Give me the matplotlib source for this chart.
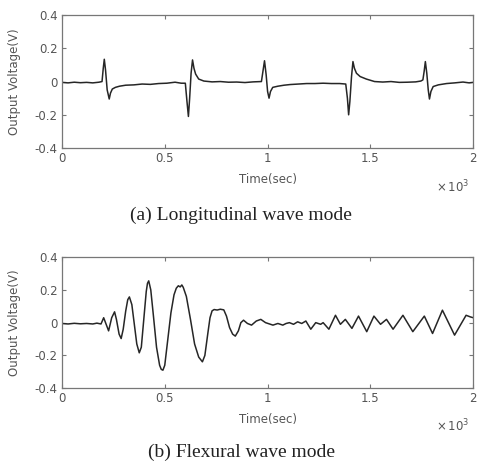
import matplotlib
matplotlib.use("Agg")
import matplotlib.pyplot as plt

# time axis shown in units of 10^3 sec
long_t = [0, 0.03, 0.06, 0.09, 0.12, 0.15, 0.18, 0.195, 0.201, 0.206, 0.212, 0.22, 0.23,
          0.236, 0.245, 0.26, 0.28, 0.31, 0.35, 0.39, 0.43, 0.47, 0.51, 0.55, 0.58, 0.60,
          0.608, 0.615, 0.621, 0.628, 0.635, 0.642, 0.65, 0.665, 0.69, 0.73, 0.77, 0.81,
          0.85, 0.89, 0.93, 0.97, 0.976, 0.985, 0.993, 1.0, 1.007, 1.014, 1.025, 1.05,
          1.08, 1.11, 1.15, 1.19, 1.23, 1.27, 1.31, 1.35, 1.38, 1.388, 1.394, 1.40, 1.408,
          1.415, 1.422, 1.432, 1.45, 1.48, 1.52, 1.56, 1.60, 1.64, 1.68, 1.72, 1.745,
          1.755, 1.761, 1.767, 1.774, 1.781, 1.787, 1.794, 1.805, 1.83, 1.87, 1.91, 1.95,
          1.98, 2.0]
long_v = [-0.005, -0.008, -0.004, -0.007, -0.005, -0.008, -0.004, 0.0, 0.08, 0.134, 0.07,
          -0.05, -0.105, -0.07, -0.045, -0.035, -0.028, -0.022, -0.02, -0.015, -0.017,
          -0.012, -0.01, -0.004, -0.01, -0.01, -0.12, -0.21, -0.1, 0.05, 0.13, 0.08, 0.045,
          0.015, 0.003, -0.002, 0.0, -0.004, -0.003, -0.006, -0.002, 0.0, 0.05, 0.125,
          0.04, -0.06, -0.10, -0.06, -0.035, -0.028, -0.022, -0.018, -0.015, -0.012,
          -0.012, -0.01, -0.012, -0.012, -0.015, -0.1, -0.2, -0.12, 0.03, 0.12, 0.08,
          0.05, 0.03, 0.015, 0.0, -0.003, 0.0, -0.005, -0.004, -0.002, 0.003, 0.01, 0.06,
          0.12, 0.05, -0.05, -0.105, -0.06, -0.03, -0.02, -0.012, -0.008, -0.003, -0.008,
          -0.005]

flex_t = [0, 0.03, 0.06, 0.09, 0.12, 0.15, 0.17, 0.19, 0.203, 0.215, 0.227, 0.242, 0.256,
          0.265, 0.278, 0.288, 0.298, 0.31, 0.32, 0.328, 0.34, 0.352, 0.364, 0.376, 0.386,
          0.398, 0.41, 0.416, 0.422, 0.432, 0.445, 0.46, 0.475, 0.483, 0.491, 0.50, 0.515,
          0.53, 0.545, 0.556, 0.566, 0.575, 0.583, 0.59, 0.605, 0.625, 0.645, 0.665, 0.683,
          0.695, 0.71, 0.72, 0.73, 0.74, 0.755, 0.77, 0.787, 0.80, 0.815, 0.83, 0.843,
          0.858, 0.87, 0.883, 0.902, 0.922, 0.945, 0.967, 0.99, 1.026, 1.05, 1.074, 1.09,
          1.106, 1.126, 1.146, 1.166, 1.186, 1.21, 1.234, 1.258, 1.27, 1.298, 1.33, 1.354,
          1.378, 1.41, 1.442, 1.482, 1.517, 1.549, 1.578, 1.61, 1.658, 1.706, 1.762, 1.802,
          1.85, 1.909, 1.965, 1.986, 2.0]
flex_v = [-0.005, -0.008, -0.004, -0.007, -0.005, -0.008, -0.003, -0.008, 0.03, -0.01,
          -0.05, 0.03, 0.066, 0.02, -0.07, -0.097, -0.04, 0.07, 0.14, 0.157, 0.11, -0.01,
          -0.13, -0.184, -0.15, 0.02, 0.19, 0.24, 0.255, 0.2, 0.04, -0.15, -0.26, -0.285,
          -0.29, -0.26, -0.1, 0.06, 0.17, 0.21, 0.225, 0.218, 0.23, 0.215, 0.16, 0.02,
          -0.13, -0.21, -0.239, -0.2, -0.06, 0.03, 0.072, 0.08, 0.077, 0.082, 0.078, 0.04,
          -0.03, -0.07, -0.082, -0.05, 0.0, 0.015, -0.005, -0.015, 0.01, 0.02, 0.0, -0.015,
          -0.005, -0.015, -0.005, 0.0, -0.01, 0.005, -0.005, 0.01, -0.04, 0.0, -0.01, 0.0,
          -0.04, 0.045, -0.01, 0.02, -0.035, 0.04, -0.055, 0.04, -0.01, 0.02, -0.04, 0.045,
          -0.055, 0.04, -0.066, 0.076, -0.076, 0.045, 0.035, 0.03]

x_ticks = [0, 0.5, 1, 1.5, 2]
x_labels = ["0", "0.5", "1", "1.5", "2"]
y_ticks = [-0.4, -0.2, 0, 0.2, 0.4]
y_labels = ["-0.4", "-0.2", "0", "0.2", "0.4"]

panels = [
    (long_t, long_v, "(a) Longitudinal wave mode", [0.129, 0.685, 0.857, 0.283], 215),
    (flex_t, flex_v, "(b) Flexural wave mode", [0.129, 0.174, 0.857, 0.279], 452),
]

fig = plt.figure(figsize=(4.8, 4.7), dpi=100)
gray = "#777777"
txt = "#555555"
fs = 8.5

for t, v, caption, rect, cap_y in panels:
    ax = fig.add_axes(rect)
    ax.plot(t, v, color="#262626", lw=1.1)
    ax.set_xlim(0, 2)
    ax.set_ylim(-0.4, 0.4)
    ax.set_xticks(x_ticks)
    ax.set_xticklabels(x_labels)
    ax.set_yticks(y_ticks)
    ax.set_yticklabels(y_labels)
    ax.tick_params(direction="in", length=3, top=True, right=True, color=gray,
                   labelcolor=txt, labelsize=fs, width=0.8)
    ax.tick_params(axis="x", pad=3)
    ax.tick_params(axis="y", pad=3)
    for s in ax.spines.values():
        s.set_color(gray)
        s.set_linewidth(0.9)
    ax.set_ylabel("Output Voltage(V)", color=txt, fontsize=fs)
    ax.yaxis.set_label_coords(-0.1, 0.5)
    ax.text(0.5, -0.24, "Time(sec)", transform=ax.transAxes, ha="center",
            va="center", color=txt, fontsize=fs)
    ax.text(0.95, -0.29, r"$\times\,10^{3}$", transform=ax.transAxes, ha="center",
            va="center", color=txt, fontsize=fs)
    fig.text(241 / 480, 1 - cap_y / 470, caption, ha="center", va="center",
             family="Liberation Serif", fontsize=14, color="#222222")

fig.savefig("out.png", dpi=100)
